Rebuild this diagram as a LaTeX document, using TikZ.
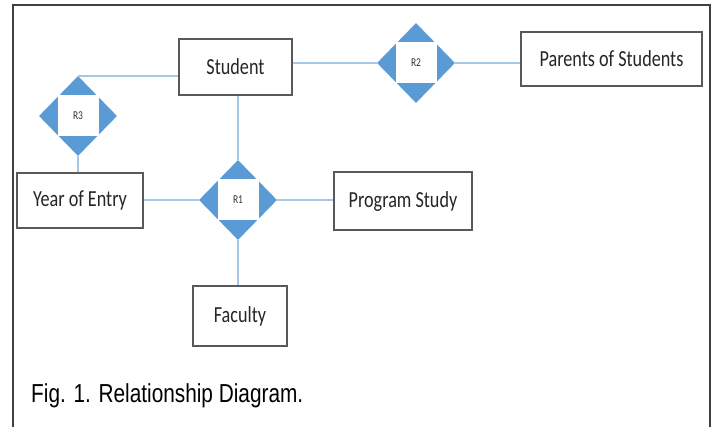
\documentclass[tikz,border=0pt]{standalone}
\usepackage{fontspec}
\usetikzlibrary{shapes.geometric}
\newfontfamily\boxfont{Carlito}[FakeStretch=0.79]
\newfontfamily\capfont{Liberation Sans}[FakeStretch=0.80]
\definecolor{relblue}{HTML}{5B9BD5}
\definecolor{linkblue}{HTML}{A7C7E7}
\begin{document}
\begin{tikzpicture}[x=1pt,y=-1pt,
  entity/.style={draw=black!65, line width=1.4pt, fill=white, inner sep=0pt,
    text=black!85, font=\boxfont\fontsize{23}{26}\selectfont},
  rel/.style={diamond, fill=relblue, inner sep=0pt, minimum width=78pt, minimum height=80pt},
  relcore/.style={fill=white, inner sep=0pt, minimum width=41pt, minimum height=41pt,
    text=black!80, font=\boxfont\fontsize{12}{14}\selectfont},
  link/.style={draw=linkblue, line width=2pt}]
\useasboundingbox (0,0) rectangle (714,427);
\fill[white] (0,0) rectangle (714,427);
% open frame around the figure
\draw[black!75, line width=2.2pt] (13,432) -- (13,5) -- (710,5) -- (710,432);

% entities
\node[entity, minimum width=113pt, minimum height=56pt] (s) at (235.5,67) {Student};
\node[entity, minimum width=181pt, minimum height=54pt] (p) at (611.5,59) {Parents of Students};
\node[entity, minimum width=126pt, minimum height=55pt] (y) at (80,200.5) {Year of Entry};
\node[entity, minimum width=138pt, minimum height=58pt] (ps) at (403,201) {Program Study};
\node[entity, minimum width=94pt, minimum height=60pt] (f) at (240,316) {Faculty};

% relationships
\node[rel] (r1) at (238,200) {};
\node[relcore] (r1t) at (r1) {R1};
\node[rel] (r2) at (416,63) {};
\node[relcore] (r2t) at (r2) {R2};
\node[rel] (r3) at (78,116) {};
\node[relcore] (r3t) at (r3) {R3};

% links
\draw[link] (r2.west) -- (r2.west -| s.east);
\draw[link] (r2.east) -- (r2.east -| p.west);
\draw[link] (r1.north) -- (r1.north |- s.south);
\draw[link] (r1.west) -- (r1.west -| y.east);
\draw[link] (r1.east) -- (r1.east -| ps.west);
\draw[link] (r1.south) -- (r1.south |- f.north);
\draw[link] (r3.north) -- (r3.north -| s.west);
\draw[link] (r3.south) -- (r3.south |- y.north);

% caption
\node[anchor=base west, inner sep=0pt, font=\capfont\fontsize{26}{30}\selectfont] (cap)
  at (31,402) {Fig. 1. Relationship Diagram.};
\end{tikzpicture}
\end{document}
